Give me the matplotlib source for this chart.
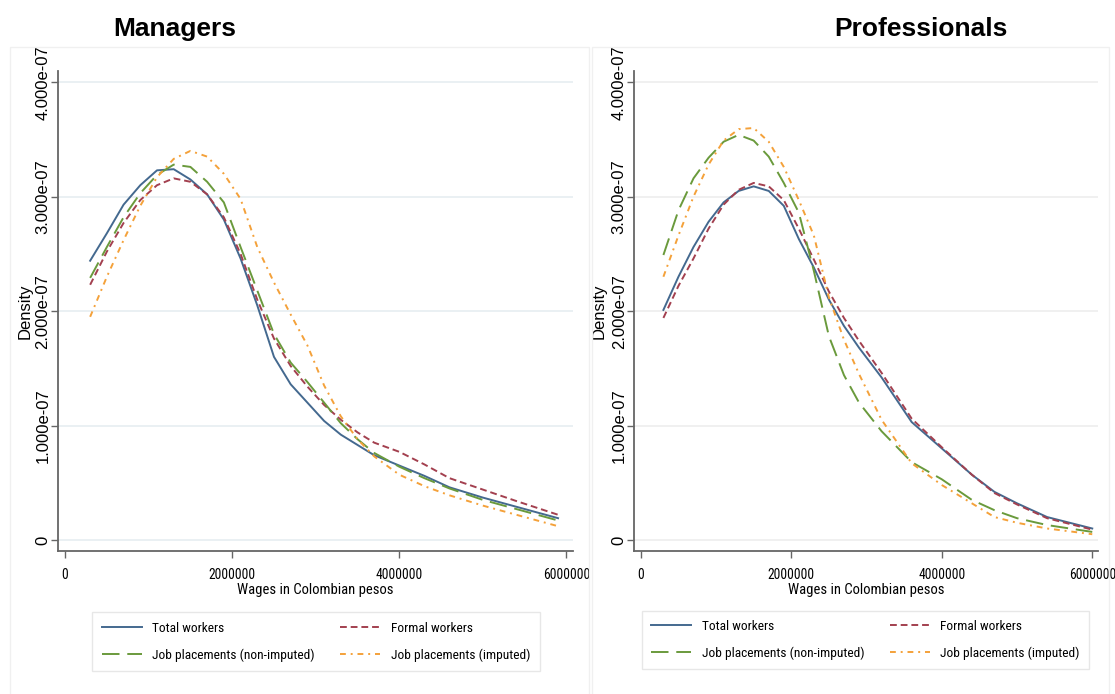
import matplotlib
matplotlib.use("Agg")
import matplotlib.pyplot as plt
from matplotlib import font_manager
from matplotlib.font_manager import FontProperties
from matplotlib.patches import Rectangle
from matplotlib.ticker import FuncFormatter

# --- datos (salarios en millones de pesos, densidad en 1e-07) ---
x_man = [0.3, 0.5, 0.7, 0.9, 1.1, 1.3, 1.5, 1.7, 1.9, 2.1, 2.3, 2.5,
         2.7, 2.9, 3.1, 3.3, 3.5, 3.7, 4.0, 4.3, 4.6, 5.0, 5.4, 5.9]
man_total = [2.44, 2.68, 2.93, 3.10, 3.23, 3.24, 3.15, 3.02, 2.80, 2.46, 2.05, 1.60,
             1.36, 1.20, 1.04, 0.92, 0.83, 0.74, 0.65, 0.56, 0.46, 0.37, 0.29, 0.19]
man_formal = [2.23, 2.52, 2.77, 2.97, 3.10, 3.16, 3.13, 3.02, 2.82, 2.50, 2.10, 1.76,
              1.52, 1.34, 1.18, 1.05, 0.94, 0.85, 0.77, 0.66, 0.54, 0.44, 0.34, 0.22]
man_nonimp = [2.29, 2.56, 2.82, 3.03, 3.19, 3.28, 3.26, 3.13, 2.95, 2.56, 2.18, 1.80,
              1.55, 1.38, 1.20, 1.02, 0.88, 0.76, 0.64, 0.54, 0.45, 0.35, 0.27, 0.17]
man_imp = [1.95, 2.30, 2.62, 2.92, 3.17, 3.33, 3.40, 3.35, 3.20, 2.98, 2.56, 2.25,
           1.97, 1.70, 1.35, 1.08, 0.88, 0.73, 0.57, 0.47, 0.39, 0.30, 0.22, 0.12]

x_prof = [0.3, 0.5, 0.7, 0.9, 1.1, 1.3, 1.5, 1.7, 1.9, 2.1, 2.3, 2.5,
          2.7, 2.9, 3.2, 3.6, 4.0, 4.4, 4.7, 5.0, 5.4, 6.0]
prof_total = [2.01, 2.30, 2.56, 2.78, 2.95, 3.05, 3.09, 3.05, 2.92, 2.63, 2.38, 2.10,
              1.87, 1.68, 1.42, 1.03, 0.80, 0.57, 0.42, 0.32, 0.20, 0.10]
prof_formal = [1.94, 2.22, 2.46, 2.72, 2.93, 3.06, 3.12, 3.09, 2.97, 2.72, 2.45, 2.17,
               1.94, 1.74, 1.46, 1.06, 0.81, 0.57, 0.41, 0.31, 0.19, 0.09]
prof_nonimp = [2.49, 2.88, 3.16, 3.34, 3.48, 3.54, 3.49, 3.35, 3.12, 2.86, 2.35, 1.78,
               1.44, 1.20, 0.95, 0.68, 0.53, 0.35, 0.26, 0.19, 0.13, 0.07]
prof_imp = [2.30, 2.66, 3.00, 3.28, 3.49, 3.59, 3.60, 3.48, 3.26, 2.97, 2.66, 2.12,
            1.75, 1.45, 1.05, 0.67, 0.48, 0.32, 0.20, 0.15, 0.10, 0.05]

series_labels = ["Total workers", "Formal workers",
                 "Job placements (non-imputed)", "Job placements (imputed)"]
x_ticks = [0, 2000000, 4000000, 6000000]
y_ticks = [0, 1e-7, 2e-7, 3e-7, 4e-7]

# estilos
COLORS = ["#44698f", "#a3404f", "#6a9a3c", "#f4a13a"]
STYLES = ["-", (0, (3.5, 2)), (0, (9, 4)), (0, (3, 2.5, 1, 2.5))]

plt.rcParams["font.family"] = ["Liberation Sans", "DejaVu Sans"]


def buscar_fuente_estrecha():
    """Busca una sans estrecha tipo Arial Narrow; si no hay, None."""
    preferidas = ["Liberation Sans Narrow", "Arial Narrow", "Roboto Condensed",
                  "Open Sans Condensed", "Nimbus Sans Narrow", "Noto Sans Condensed"]
    lista = font_manager.fontManager.ttflist
    for nombre in preferidas:
        for f in lista:
            if f.name == nombre and f.weight in (400, "normal", "regular") and f.style == "normal":
                return f.fname
    for f in lista:
        n = f.name.lower()
        if ("narrow" in n or "condensed" in n) and "mono" not in n and "serif" not in n \
                and f.style == "normal" and f.weight in (400, "normal", "regular"):
            return f.fname
    for f in lista:
        if f.stretch in ("condensed", "semi-condensed") and "Sans" in f.name \
                and "Mono" not in f.name and f.style == "normal" and f.weight in (400, "normal"):
            return f.fname
    return None


ruta_narrow = buscar_fuente_estrecha()


def fp_narrow(size):
    if ruta_narrow:
        return FontProperties(fname=ruta_narrow, size=size)
    # sin fuente estrecha: Liberation Sans algo más pequeña
    return FontProperties(family="Liberation Sans", size=size * 0.86)


def panel(fig, rect, xs, ys_list, grid_color, ylab_x, leg_anchor):
    ax = fig.add_axes(rect)
    lineas = []
    for ys, lab, c, ls in zip(ys_list, series_labels, COLORS, STYLES):
        ln, = ax.plot([v * 1e6 for v in xs], [v * 1e-7 for v in ys],
                      color=c, linestyle=ls, linewidth=1.4, label=lab)
        lineas.append(ln)
    ax.set_xlim(-85000, 6080000)
    ax.set_ylim(-0.097e-7, 4.1e-7)
    ax.set_xticks(x_ticks)
    ax.set_xticklabels([str(t) for t in x_ticks], fontproperties=fp_narrow(9.8))
    ax.set_yticks(y_ticks)
    ax.yaxis.set_major_formatter(FuncFormatter(lambda v, p: "0" if v == 0 else f"{v:.3e}"))
    for lab in ax.get_yticklabels():
        lab.set_rotation(90)
        lab.set_va("center")
        lab.set_fontsize(12)
    ax.tick_params(axis="both", direction="out", length=5, color="#666666", width=1)
    ax.tick_params(axis="y", pad=0.5)
    ax.tick_params(axis="x", pad=7)
    ax.grid(axis="y", color=grid_color, linewidth=1.2)
    ax.set_axisbelow(True)
    for s in ["top", "right"]:
        ax.spines[s].set_visible(False)
    for s in ["left", "bottom"]:
        ax.spines[s].set_color("#666666")
        ax.spines[s].set_linewidth(1.3)
    ax.set_xlabel("Wages in Colombian pesos", fontproperties=fp_narrow(10.5), labelpad=1)
    ax.set_ylabel("Density", fontsize=12)
    ax.yaxis.set_label_coords(ylab_x, 0.50)
    # orden por filas como en el original
    orden = [0, 2, 1, 3]
    leg = ax.legend([lineas[i] for i in orden], [series_labels[i] for i in orden],
                    loc="upper center", bbox_to_anchor=leg_anchor, ncol=2,
                    prop=fp_narrow(9.6), frameon=True, fancybox=False,
                    edgecolor="#e2e2e2", handlelength=3.0, handletextpad=0.8,
                    columnspacing=1.9, labelspacing=1.0, borderpad=0.7)
    leg.get_frame().set_linewidth(1.0)
    return ax


fig = plt.figure(figsize=(11.15, 6.94), dpi=100)

# marcos de cada panel
fig.add_artist(Rectangle((0.009, -0.01), 0.519, 0.942, transform=fig.transFigure,
                         fill=False, edgecolor="#f0f0f0", linewidth=1))
fig.add_artist(Rectangle((0.531, -0.01), 0.464, 0.942, transform=fig.transFigure,
                         fill=False, edgecolor="#f0f0f0", linewidth=1))

panel(fig, [0.052, 0.206, 0.462, 0.692], x_man,
      [man_total, man_formal, man_nonimp, man_imp], "#e6eef1", -0.049, (0.501, -0.114))
panel(fig, [0.569, 0.206, 0.416, 0.692], x_prof,
      [prof_total, prof_formal, prof_nonimp, prof_imp], "#ededed", -0.060, (0.498, -0.110))

fig.text(0.157, 0.958, "Managers", ha="center", va="center", fontsize=19, fontweight="bold")
fig.text(0.826, 0.958, "Professionals", ha="center", va="center", fontsize=19, fontweight="bold")

fig.savefig("out.png", dpi=100)
